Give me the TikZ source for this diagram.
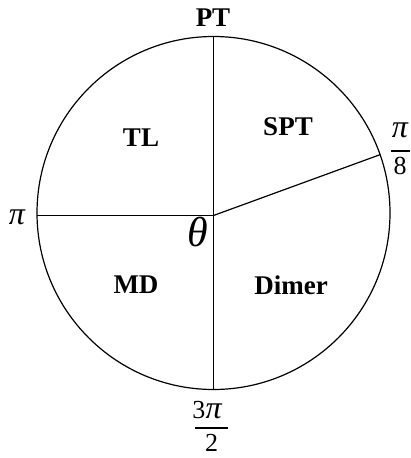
\documentclass[tikz,border=0pt]{standalone}
\usepackage{fontspec}
\setmainfont{Liberation Serif}
\usetikzlibrary{calc}
\begin{document}
\begin{tikzpicture}[x=1pt,y=-1pt,line width=1.2pt,
  region/.style={font=\fontsize{27}{30}\selectfont\bfseries},
  pisym/.style={font=\fontsize{32}{34}\selectfont\itshape, inner sep=0pt},
  digit/.style={font=\fontsize{26}{28}\selectfont, inner sep=0pt},
  bar/.style={line width=1.6pt}]
\useasboundingbox (0,0) rectangle (411,458);
\coordinate (C) at (213.5,213);
\coordinate (O) at (213.5,215.5);
\draw (C) circle[radius=176.5pt];
\coordinate (T) at (213.5,36.5);
\coordinate (B) at (213.5,389.5);
\coordinate (L) at (36.7,215.5);
\coordinate (R) at ($(C)+(-19.3:176.5)$);
\draw (T) -- (B);
\draw (L) -- (O);
\draw (O) -- (R);
\node[region] (pt) at (213,18) {PT};
\node[region] (tl) at (141,138) {TL};
\node[region] (spt) at (288,127) {SPT};
\node[region] (md) at (136,285) {MD};
\node[region] (dimer) at (291,285) {Dimer};
\node[font=\fontsize{42}{44}\selectfont\itshape, inner sep=0pt] (th) at (198,232) {θ};
\node[pisym] (pi) at (17,217) {π};
% pi/8
\node[pisym] (p8n) at (400,130) {π};
\node[digit] (p8d) at (400,166) {8};
\coordinate (p8a) at (391,151);
\coordinate (p8b) at (410,151);
\draw[bar] (p8a) -- (p8b);
% 3pi/2
\node[digit,anchor=base east] (p32a) at (206,418) {3};
\node[pisym,anchor=base west] (p32n) at (205,418) {π};
\node[digit] (p32d) at (211.5,443) {2};
\coordinate (p32l) at (195,428);
\coordinate (p32r) at (228,428);
\draw[bar] (p32l) -- (p32r);
\end{tikzpicture}
\end{document}
